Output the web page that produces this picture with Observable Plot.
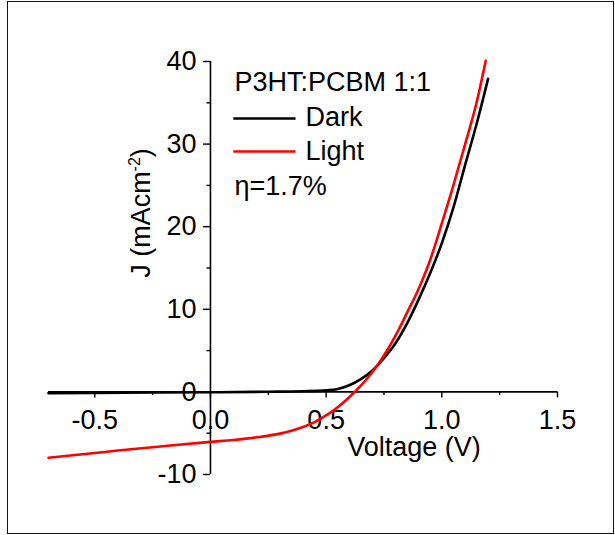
<!DOCTYPE html>
<html><head><meta charset="utf-8">
<script src="https://cdn.jsdelivr.net/npm/d3@7"></script>
<script src="https://cdn.jsdelivr.net/npm/@observablehq/plot@0.6"></script>
<style>
html,body{margin:0;padding:0;background:#fff;}
#wrap{position:relative;width:615px;height:535px;overflow:hidden;}
#frame{position:absolute;left:7px;top:1px;width:605px;height:531px;border:1.5px solid #111;pointer-events:none;}
</style></head><body><div id="wrap"><div id="chart"></div><div id="frame"></div></div>
<script>
// Data
const voltageDark = [-0.7,-0.5,-0.25,0,0.25,0.4,0.5,0.55,0.6,0.65,0.7,0.75,0.8,0.85,0.9,0.95,1.0,1.05,1.1,1.15,1.2];
const currentDark = [-0.15,-0.12,-0.08,-0.04,0.02,0.08,0.18,0.35,0.8,1.55,2.6,4.1,5.9,8.3,11.2,14.4,18.0,22.3,27.4,32.4,37.9];
const voltageLight = [-0.7,-0.5,-0.4,-0.25,0,0.1,0.2,0.3,0.35,0.4,0.45,0.5,0.55,0.6,0.65,0.7,0.75,0.8,0.85,0.9,0.95,1.0,1.05,1.1,1.15,1.19];
const currentLight = [-7.97,-7.4,-7.1,-6.7,-6.05,-5.82,-5.5,-5.05,-4.7,-4.25,-3.65,-2.85,-1.85,-0.65,0.75,2.4,4.4,6.8,9.6,12.5,16.0,20.4,25.0,29.9,35.0,40.1];
const xTicks = [-0.5,0,0.5,1.0,1.5];
const xTickLabels = ["-0.5","0.0","0.5","1.0","1.5"];
const xMinorTicks = [-0.25,0.25,0.75,1.25];
const yTicks = [-10,0,10,20,30,40];
const yTickLabels = ["-10","0","10","20","30","40"];
const yMinorTicks = [-5,5,15,25,35];
const xDomain = [-0.7,1.5];
const yDomain = [-10,40];
const seriesNames = ["Dark","Light"];
const seriesColors = ["#000000","#ff0000"];
const legendTitle = "P3HT:PCBM 1:1";
const efficiencyText = "η=1.7%";
const xLabel = "Voltage (V)";
const yLabel = "J (mAcm-2)";

const dark = voltageDark.map((v,i)=>({v, j: currentDark[i]}));
const light = voltageLight.map((v,i)=>({v, j: currentLight[i]}));
const font = "Liberation Sans, Arial, Helvetica, sans-serif";
const fs = 27;

const legendRows = [
  {name: seriesNames[0], color: seriesColors[0], y: 33.1, dy: 56},
  {name: seriesNames[1], color: seriesColors[1], y: 29.1, dy: 90}
];

const chart = Plot.plot({
  width: 615, height: 535,
  marginLeft: 48, marginRight: 58, marginTop: 61, marginBottom: 61,
  x: {domain: xDomain, axis: null},
  y: {domain: yDomain, axis: null},
  style: {fontFamily: font, background: "transparent", overflow: "visible"},
  marks: [
    // axes crossing at origin
    Plot.ruleY([0], {x1: xDomain[0], x2: xDomain[1], stroke: "#000", strokeWidth: 1.6}),
    Plot.ruleX([0], {y1: yDomain[0], y2: yDomain[1], stroke: "#000", strokeWidth: 1.6}),
    Plot.ruleX(xTicks, {x: d=>d, y1: 0, y2: 0, insetBottom: -6, stroke: "#000", strokeWidth: 1.4}),
    Plot.ruleX(xMinorTicks, {x: d=>d, y1: 0, y2: 0, insetBottom: -3.5, stroke: "#000", strokeWidth: 1.4}),
    Plot.ruleY(yTicks, {y: d=>d, x1: 0, x2: 0, insetLeft: -7, stroke: "#000", strokeWidth: 1.4}),
    Plot.ruleY(yMinorTicks, {y: d=>d, x1: 0, x2: 0, insetLeft: -3.5, stroke: "#000", strokeWidth: 1.4}),
    Plot.text(xTicks, {x: d=>d, y: 0, text: (d,i)=>xTickLabels[i], dy: 28, lineAnchor: "middle", fontSize: fs, fill: "#000"}),
    Plot.text(yTicks, {x: 0, y: d=>d, text: (d,i)=>yTickLabels[i], dx: -14, textAnchor: "end", lineAnchor: "middle", fontSize: fs, fill: "#000"}),
    Plot.text([xLabel], {frameAnchor: "bottom", text: d=>d, dx: 111, dy: -27, textAnchor: "middle", lineAnchor: "middle", fontSize: fs, fill: "#000"}),
    Plot.text([yLabel], {frameAnchor: "left", text: d=>d, dx: 93, dy: -55, rotate: -90, textAnchor: "middle", lineAnchor: "middle", fontSize: fs, fill: "#000"}),
    // curves
    Plot.line(dark, {x: "v", y: "j", stroke: seriesColors[0], strokeWidth: 2.6, curve: "monotone-x"}),
    Plot.line(light, {x: "v", y: "j", stroke: seriesColors[1], strokeWidth: 2.6, curve: "monotone-x"}),
    // legend
    Plot.ruleY(legendRows, {y: "y", x1: 0.101, x2: 0.37, stroke: "color", strokeWidth: 2.6}),
    Plot.text(legendRows.slice(0,1), {frameAnchor: "top-left", text: "name", dx: 257, dy: 56, fontSize: fs, fill: "#000", textAnchor: "start", lineAnchor: "middle"}),
    Plot.text(legendRows.slice(1,2), {frameAnchor: "top-left", text: "name", dx: 257, dy: 90, fontSize: fs, fill: "#000", textAnchor: "start", lineAnchor: "middle"}),
    Plot.text([legendTitle], {frameAnchor: "top-left", text: d=>d, dx: 186, dy: 21, fontSize: fs, fill: "#000", textAnchor: "start", lineAnchor: "middle"}),
    Plot.text([efficiencyText], {frameAnchor: "top-left", text: d=>d, dx: 186, dy: 125, fontSize: fs, fill: "#000", textAnchor: "start", lineAnchor: "middle"})
  ]
});
document.getElementById("chart").appendChild(chart);

// superscript in the y label
chart.querySelectorAll("text").forEach(t => {
  if (t.textContent === yLabel) {
    t.textContent = "";
    const ns = "http://www.w3.org/2000/svg";
    const a = document.createElementNS(ns, "tspan"); a.textContent = "J (mAcm";
    const b = document.createElementNS(ns, "tspan"); b.textContent = "-2"; b.setAttribute("dy", "-10"); b.setAttribute("font-size", "16");
    const c = document.createElementNS(ns, "tspan"); c.textContent = ")"; c.setAttribute("dy", "10");
    t.appendChild(a); t.appendChild(b); t.appendChild(c);
  }
});
</script>
</body></html>
